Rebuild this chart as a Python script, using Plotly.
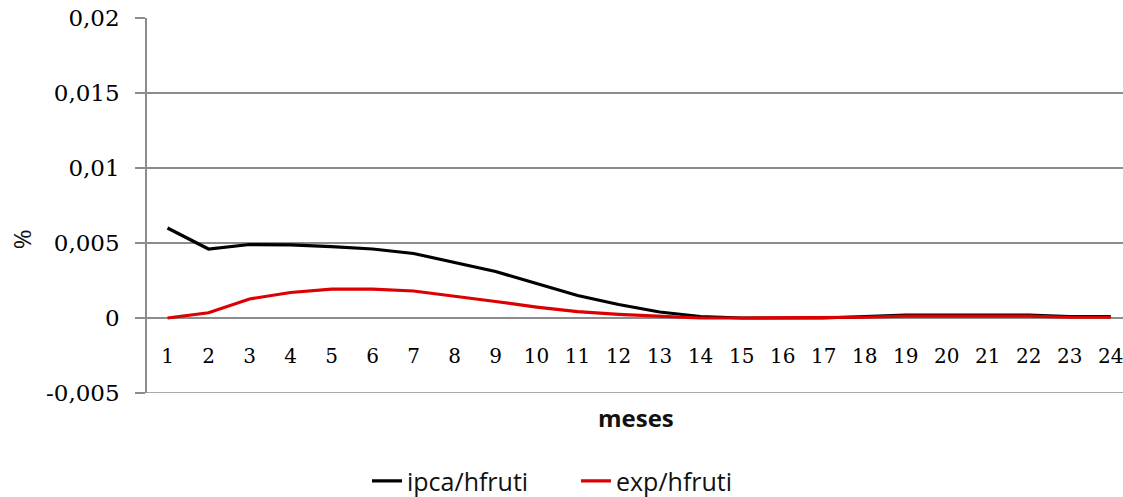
import plotly.graph_objects as go

# Months after the shock
meses = list(range(1, 25))

# Accumulated responses (%)
ipca_hfruti = [0.0060, 0.0046, 0.0049, 0.00487, 0.00476, 0.0046, 0.0043, 0.0037,
               0.0031, 0.0023, 0.0015, 0.0009, 0.0004, 0.0001, 0.0, 0.0,
               0.0, 0.0001, 0.0002, 0.0002, 0.0002, 0.0002, 0.0001, 0.0001]
exp_hfruti = [0.0, 0.00035, 0.00127, 0.0017, 0.00193, 0.00193, 0.0018, 0.00147,
              0.0011, 0.00073, 0.00042, 0.00024, 0.0001, 0.0, 0.0, 0.0,
              0.0, 0.00005, 0.00012, 0.00012, 0.00012, 0.00012, 0.00005, 0.00005]

y_tickvals = [-0.005, 0, 0.005, 0.01, 0.015, 0.02]
y_ticktext = ["-0,005", "0", "0,005", "0,01", "0,015", "0,02"]

GRID = "#8c8c8c"
SERIF = "DejaVu Serif"
SANS = "Open Sans"

fig = go.Figure()
fig.add_trace(go.Scatter(x=meses, y=ipca_hfruti, mode="lines", name="ipca/hfruti",
                         line=dict(color="#000000", width=3.2)))
fig.add_trace(go.Scatter(x=meses, y=exp_hfruti, mode="lines", name="exp/hfruti",
                         line=dict(color="#dc0000", width=3.2)))

y_min, y_max = -0.005, 0.02
zero_pos = (0 - y_min) / (y_max - y_min)

fig.update_layout(
    width=1123, height=497,
    margin=dict(l=147, r=0, t=18, b=104, autoexpand=False),
    paper_bgcolor="white", plot_bgcolor="white",
    showlegend=True,
    legend=dict(orientation="h", x=0.2254, xanchor="left", y=-0.235, yanchor="middle",
                font=dict(family=SANS, size=25, color="#111111"),
                bgcolor="rgba(0,0,0,0)", itemwidth=30, entrywidth=164,
                entrywidthmode="pixels"),
    xaxis=dict(
        range=[0.5, 24.30], tickmode="array", tickvals=meses,
        ticktext=[str(m) for m in meses],
        showgrid=False, zeroline=False, showline=False, ticks="",
        anchor="free", position=zero_pos, ticklabelstandoff=24,
        ticklabeloverflow="allow",
        tickfont=dict(family=SERIF, size=20, color="#000000"),
    ),
    yaxis=dict(
        range=[y_min, y_max], tickmode="array", tickvals=y_tickvals, ticktext=y_ticktext,
        showgrid=True, gridcolor=GRID, gridwidth=1.5, zeroline=False,
        showline=True, linecolor=GRID, linewidth=1.5,
        ticks="outside", ticklen=10, tickcolor=GRID, tickwidth=1.5,
        ticklabelstandoff=11,
        tickfont=dict(family=SERIF, size=23, color="#000000"),
    ),
    # bottom gridline at the lower edge of the value range
    shapes=[dict(type="line", xref="paper", yref="y", x0=0, x1=1, y0=y_min, y1=y_min,
                 line=dict(color=GRID, width=1.5), layer="below")],
    annotations=[
        dict(text="meses", xref="paper", yref="paper", x=0.501, y=-0.066,
             xanchor="center", yanchor="middle", showarrow=False,
             font=dict(family=SANS, size=24, color="#111111", weight="bold")),
        dict(text="%", xref="paper", yref="paper", x=-0.129, y=0.41,
             xanchor="center", yanchor="middle", showarrow=False, textangle=-90,
             font=dict(family=SANS, size=24, color="#111111")),
    ],
)

fig.write_html("out.html")
